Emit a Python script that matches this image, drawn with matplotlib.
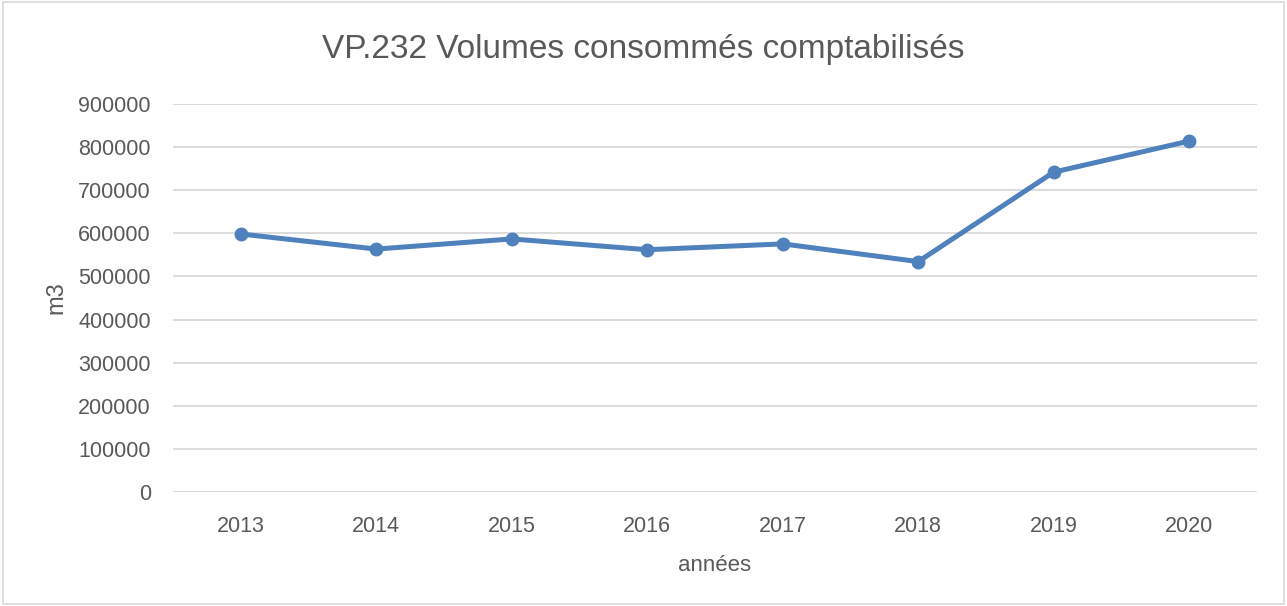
import matplotlib.pyplot as plt
from matplotlib.patches import Rectangle

annees = ["2013", "2014", "2015", "2016", "2017", "2018", "2019", "2020"]
volumes = [598500, 563500, 587000, 562000, 575500, 534500, 742000, 814000]
yticks = [0, 100000, 200000, 300000, 400000, 500000, 600000, 700000, 800000, 900000]

txt = "#595959"
plt.rcParams['font.family'] = ['Liberation Sans Narrow', 'Liberation Sans', 'DejaVu Sans']

fig = plt.figure(figsize=(12.87, 6.06), dpi=100)
ax = fig.add_axes([173/1287, 114/606, (1257-173)/1287, (492-104)/606])

# outer frame of the chart
fig.patches.append(Rectangle((0.002, 0.003), 0.996, 0.994, transform=fig.transFigure,
                             fill=False, edgecolor="#d9d9d9", linewidth=1.2))

x = list(range(len(annees)))
ax.plot(x, volumes, color="#4f81bd", linewidth=3.6, marker="o", markersize=9,
        solid_capstyle="round", solid_joinstyle="round", zorder=3)

ax.set_xlim(-0.5, len(annees) - 0.5)
ax.set_ylim(0, 900000)
ax.set_yticks(yticks)
ax.set_yticklabels([str(v) for v in yticks])
ax.set_xticks(x)
ax.set_xticklabels(annees)
ax.grid(axis="y", color="#d9d9d9", linewidth=1.3)
ax.set_axisbelow(True)
for s in ax.spines.values():
    s.set_visible(False)
ax.tick_params(length=0, labelsize=15.5, labelcolor=txt)
ax.tick_params(axis="y", pad=16)
ax.tick_params(axis="x", pad=17)

ax.set_xlabel("années", fontsize=16, color=txt, labelpad=13)
ax.set_ylabel("m3", fontsize=17, color=txt, labelpad=8)
fig.text(0.5, 0.918, "VP.232 Volumes consommés comptabilisés", ha="center", va="center",
         fontsize=24, color=txt)

fig.savefig("out.png", dpi=100)
